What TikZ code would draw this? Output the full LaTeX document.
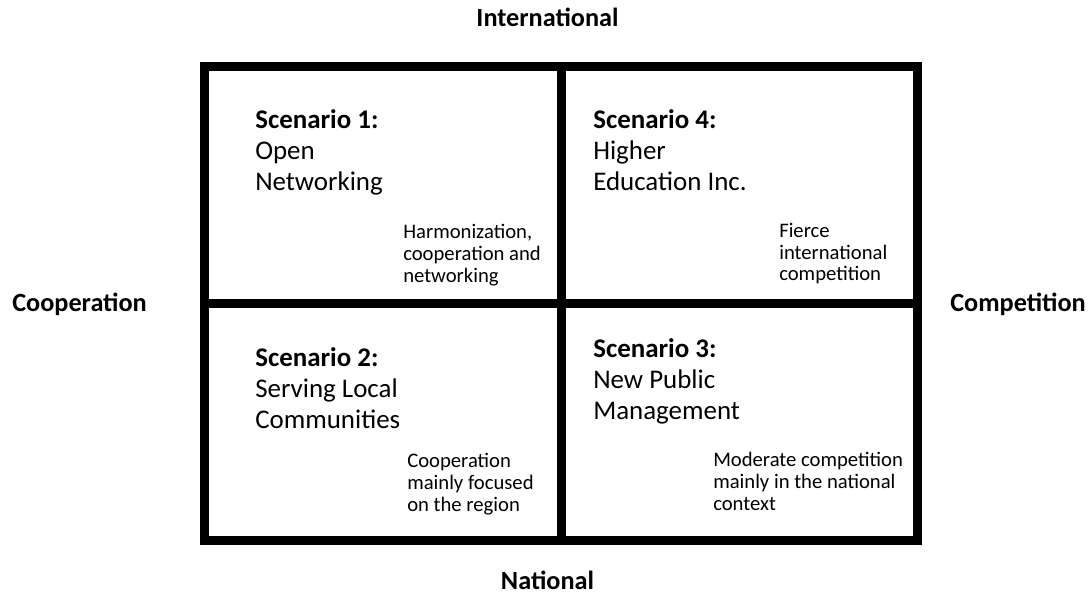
\documentclass[tikz,border=0pt]{standalone}
\usepackage{fontspec}
\setmainfont{Carlito}
\usepackage{tikz}
\usepackage{xcolor}

\tikzset{
  axislabel/.style={font=\fontsize{19.7}{23}\selectfont\bfseries, inner sep=0pt},
  scenario/.style={font=\fontsize{20.2}{23.25}\selectfont, align=left, inner sep=0pt, anchor=north west},
  remark/.style={font=\fontsize{15.5}{16.3}\selectfont, align=left, inner sep=0pt, anchor=north west}
}

\begin{document}
\begin{tikzpicture}[x=0.75pt,y=-0.75pt]

\useasboundingbox (0,0) rectangle (1090,598);
\draw[line width=6.75pt] (204.5,66.5) rectangle (917.5,540.5);
\draw[line width=6.75pt] (561.5,66.5) -- (561.5,540.5);
\draw[line width=6.75pt] (204.5,303.5) -- (917.5,303.5);

\node[axislabel, anchor=base] (intl) at (547.5,27) {International};
\node[axislabel, anchor=base] (natl) at (547.5,590) {National};
\node[axislabel, anchor=base west] (coop) at (12,312) {Cooperation};
\node[axislabel, anchor=base west] (comp) at (950,312) {Competition};

\node[scenario] (sone) at (255,109) {\textbf{Scenario 1:}\\Open\\Networking};
\node[scenario] (sfour) at (593,109) {\textbf{Scenario 4:}\\Higher\\Education Inc.};
\node[scenario] (stwo) at (255,347) {\textbf{Scenario 2:}\\Serving Local\\Communities};
\node[scenario] (sthree) at (593,338) {\textbf{Scenario 3:}\\New Public\\Management};

\node[remark] (rone) at (403,224) {Harmonization,\\cooperation and\\networking};
\node[remark] (rfour) at (779,223) {Fierce\\international\\competition};
\node[remark] (rtwo) at (407,453) {Cooperation\\mainly focused\\on the region};
\node[remark] (rthree) at (713,452) {Moderate competition\\mainly in the national\\context};
\end{tikzpicture}
\end{document}
